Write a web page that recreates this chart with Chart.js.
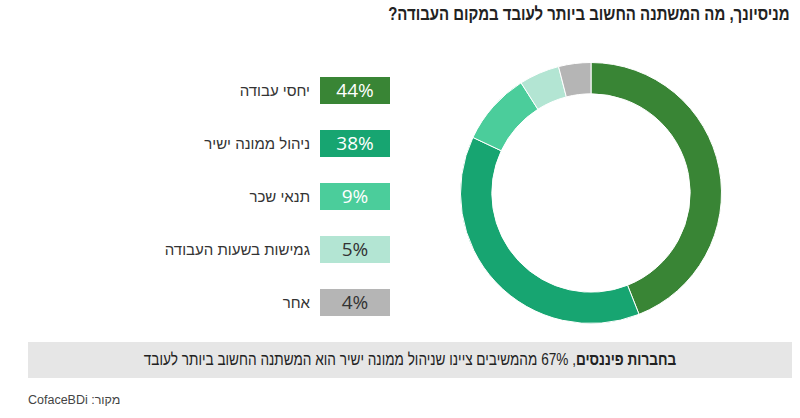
<!DOCTYPE html>
<html lang="he">
<head>
<meta charset="utf-8">
<script src="https://cdn.jsdelivr.net/npm/chart.js@4"></script>
<style>
  html, body { margin:0; padding:0; background:#fff; width:800px; height:418px; overflow:hidden; }
  body { position:relative; font-family: "Liberation Sans", "Open Sans", "DejaVu Sans", sans-serif; color:#333; }
  #title { position:absolute; right:10px; top:4px; font-size:18px; font-weight:bold; color:#222; direction:rtl; white-space:nowrap; transform:scaleX(0.83); transform-origin:right center; }
  #chartBox { position:absolute; left:460px; top:62px; width:262px; height:262px; }
  .row { position:absolute; left:0; width:390px; height:27px; }
  .lbl { position:absolute; right:80px; top:0; line-height:27px; font-size:15px; direction:rtl; white-space:nowrap; color:#333; }
  .box { position:absolute; left:320px; top:0; width:70px; height:27px; line-height:27px; text-align:center; font-size:19px; font-family:"Open Sans", "Liberation Sans", sans-serif; font-weight:400; }
  #banner { position:absolute; left:28px; top:342px; width:764px; height:36px; background:#e6e6e6; }
  #bannerText { position:absolute; left:0; right:0; top:0; line-height:36px; text-align:center; font-size:17px; direction:rtl; color:#222; white-space:nowrap; transform:scaleX(0.8); transform-origin:center center; }
  #source { position:absolute; left:28px; top:393px; font-size:12.5px; color:#444; direction:rtl; white-space:nowrap; }
</style>
</head>
<body>
<div id="title">מניסיונך, מה המשתנה החשוב ביותר לעובד במקום העבודה?</div>
<div id="legend"></div>
<div id="chartBox"><canvas id="c" width="262" height="262"></canvas></div>
<div id="banner"><div id="bannerText"><b>בחברות פיננסים</b>, 67% מהמשיבים ציינו שניהול ממונה ישיר הוא המשתנה החשוב ביותר לעובד</div></div>
<div id="source">מקור: CofaceBDi</div>
<script>
const categories = ["יחסי עבודה", "ניהול ממונה ישיר", "תנאי שכר", "גמישות בשעות העבודה", "אחר"];
const values = [44, 38, 9, 5, 4];
const colors = ["#398535", "#17a571", "#4bcd9b", "#b3e5d3", "#b5b5b5"];
const textColors = ["#ffffff", "#ffffff", "#ffffff", "#333333", "#333333"];
const rowTops = [77, 130, 183, 236, 289];

const legend = document.getElementById('legend');
categories.forEach((cat, i) => {
  const row = document.createElement('div');
  row.className = 'row';
  row.style.top = rowTops[i] + 'px';
  const lbl = document.createElement('div');
  lbl.className = 'lbl';
  lbl.textContent = cat;
  const box = document.createElement('div');
  box.className = 'box';
  box.style.background = colors[i];
  box.style.color = textColors[i];
  box.textContent = values[i] + '%';
  row.appendChild(lbl);
  row.appendChild(box);
  legend.appendChild(row);
});

new Chart(document.getElementById('c'), {
  type: 'doughnut',
  data: {
    labels: categories,
    datasets: [{
      data: values,
      backgroundColor: colors,
      borderColor: '#ffffff',
      borderWidth: 1
    }]
  },
  options: {
    responsive: false,
    animation: false,
    cutout: '76%',
    plugins: { legend: { display: false }, tooltip: { enabled: false } },
    layout: { padding: 0 }
  }
});
</script>
</body>
</html>
